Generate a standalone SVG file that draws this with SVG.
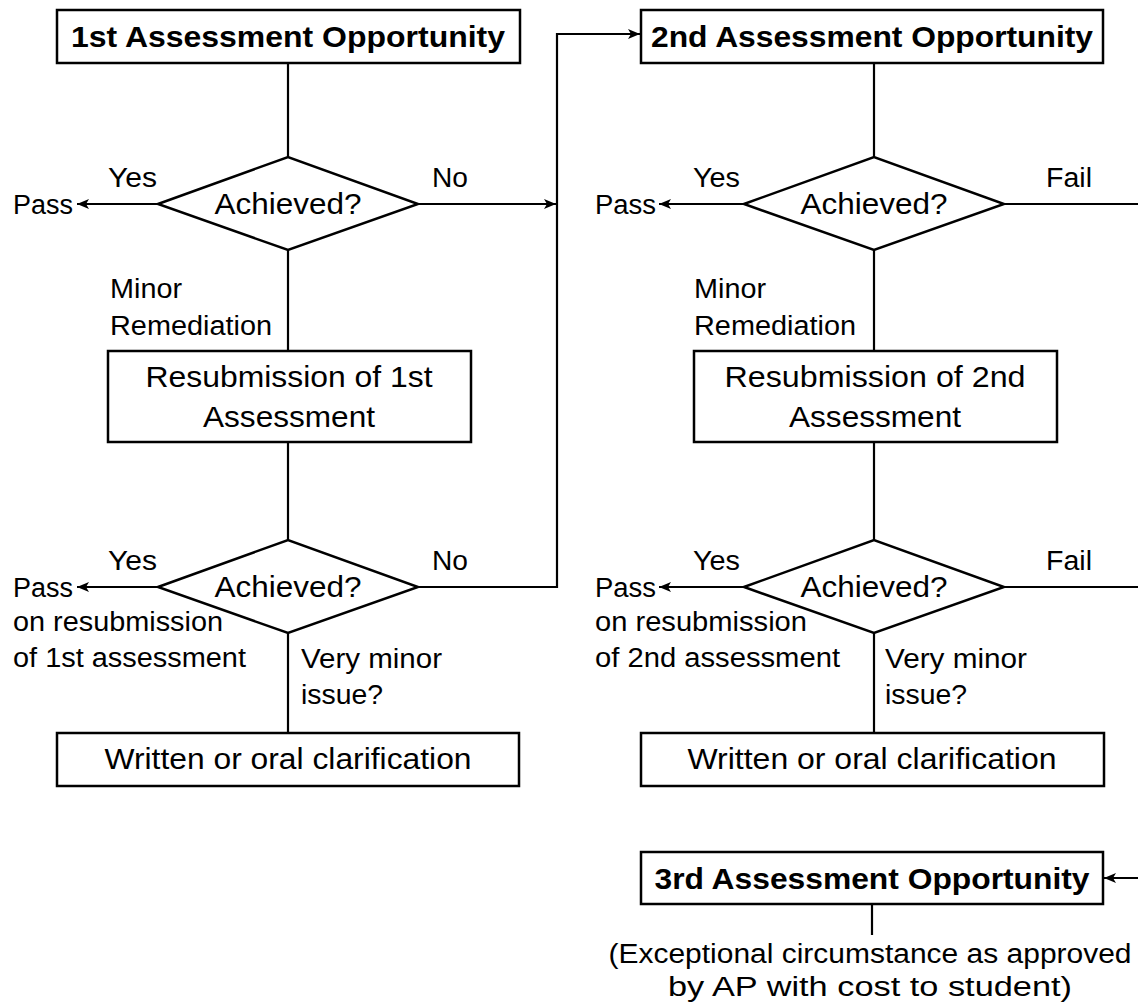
<svg xmlns="http://www.w3.org/2000/svg" width="1138" height="1005" viewBox="0 0 1138 1005">
<defs>
<style>
.box{fill:#fff;stroke:#000;stroke-width:2.5}
.ln{fill:none;stroke:#000;stroke-width:2.2}
.arr{fill:none;stroke:#000;stroke-width:2.2;marker-end:url(#ah)}
text{font-family:"Liberation Sans",Arial,Helvetica,sans-serif;fill:#000}
.t{font-size:30px}
.b{font-size:30px;font-weight:bold}
.l{font-size:27px}
</style>
<marker id="ah" viewBox="-13 -6 14 12" refX="0" refY="0" markerWidth="14" markerHeight="12" markerUnits="userSpaceOnUse" orient="auto">
<path d="M0,0 L-12,-5 L-9,0 L-12,5 Z" fill="#000"/>
</marker>
</defs>
<rect width="1138" height="1005" fill="#fff"/>

<g id="connectors">
<line class="ln" x1="288" y1="63" x2="288" y2="157"/>
<line class="ln" x1="288" y1="250" x2="288" y2="351"/>
<line class="ln" x1="288" y1="442" x2="288" y2="540"/>
<line class="ln" x1="288" y1="633" x2="288" y2="733"/>
<line class="arr" x1="158" y1="204" x2="77" y2="204"/>
<line class="arr" x1="158" y1="587" x2="77" y2="587"/>
<line class="arr" x1="418" y1="204" x2="556" y2="204"/>
<path class="arr" d="M418,587 H557 V34 H640"/>
<line class="ln" x1="874" y1="63" x2="874" y2="157"/>
<line class="ln" x1="874" y1="250" x2="874" y2="351"/>
<line class="ln" x1="874" y1="442" x2="874" y2="540"/>
<line class="ln" x1="874" y1="633" x2="874" y2="733"/>
<line class="arr" x1="744" y1="204" x2="659" y2="204"/>
<line class="arr" x1="744" y1="587" x2="659" y2="587"/>
<line class="ln" x1="1004" y1="204" x2="1138" y2="204"/>
<line class="ln" x1="1004" y1="587" x2="1138" y2="587"/>
<line class="arr" x1="1138" y1="878" x2="1104" y2="878"/>
<line class="ln" x1="872" y1="904" x2="872" y2="935"/>
</g>

<g id="lbl-left">
<text class="l" x="108" y="187" textLength="49" lengthAdjust="spacingAndGlyphs">Yes</text>
<text class="l" x="432" y="187" textLength="36" lengthAdjust="spacingAndGlyphs">No</text>
<text class="l" x="13" y="214" textLength="60" lengthAdjust="spacingAndGlyphs">Pass</text>
<text class="l" x="110" y="298" textLength="72" lengthAdjust="spacingAndGlyphs">Minor</text>
<text class="l" x="110" y="335" textLength="162" lengthAdjust="spacingAndGlyphs">Remediation</text>
<text class="l" x="108" y="570" textLength="49" lengthAdjust="spacingAndGlyphs">Yes</text>
<text class="l" x="432" y="570" textLength="36" lengthAdjust="spacingAndGlyphs">No</text>
<text class="l" x="13" y="597" textLength="60" lengthAdjust="spacingAndGlyphs">Pass</text>
<text class="l" x="13" y="631" textLength="210" lengthAdjust="spacingAndGlyphs">on resubmission</text>
<text class="l" x="13" y="667" textLength="233" lengthAdjust="spacingAndGlyphs">of 1st assessment</text>
<text class="l" x="301" y="668" textLength="141" lengthAdjust="spacingAndGlyphs">Very minor</text>
<text class="l" x="301" y="704" textLength="82" lengthAdjust="spacingAndGlyphs">issue?</text>
</g>

<g id="lbl-right">
<text class="l" x="693" y="187" textLength="47" lengthAdjust="spacingAndGlyphs">Yes</text>
<text class="l" x="1046" y="187" textLength="46" lengthAdjust="spacingAndGlyphs">Fail</text>
<text class="l" x="595" y="214" textLength="61" lengthAdjust="spacingAndGlyphs">Pass</text>
<text class="l" x="694" y="298" textLength="72" lengthAdjust="spacingAndGlyphs">Minor</text>
<text class="l" x="694" y="335" textLength="162" lengthAdjust="spacingAndGlyphs">Remediation</text>
<text class="l" x="693" y="570" textLength="47" lengthAdjust="spacingAndGlyphs">Yes</text>
<text class="l" x="1046" y="570" textLength="46" lengthAdjust="spacingAndGlyphs">Fail</text>
<text class="l" x="595" y="597" textLength="61" lengthAdjust="spacingAndGlyphs">Pass</text>
<text class="l" x="595" y="631" textLength="212" lengthAdjust="spacingAndGlyphs">on resubmission</text>
<text class="l" x="595" y="667" textLength="245" lengthAdjust="spacingAndGlyphs">of 2nd assessment</text>
<text class="l" x="885" y="668" textLength="142" lengthAdjust="spacingAndGlyphs">Very minor</text>
<text class="l" x="885" y="704" textLength="82" lengthAdjust="spacingAndGlyphs">issue?</text>
</g>

<g id="box1">
<rect class="box" x="57" y="10" width="463" height="53"/>
<text class="b" x="288" y="47" text-anchor="middle" textLength="434" lengthAdjust="spacingAndGlyphs">1st Assessment Opportunity</text>
</g>
<g id="dec1">
<polygon class="box" points="158,204 288,157 418,204 288,250"/>
<text class="t" x="288" y="214" text-anchor="middle" textLength="147" lengthAdjust="spacingAndGlyphs">Achieved?</text>
</g>
<g id="resub1">
<rect class="box" x="108" y="351" width="363" height="91"/>
<text class="t" x="289" y="387" text-anchor="middle" textLength="287" lengthAdjust="spacingAndGlyphs">Resubmission of 1st</text>
<text class="t" x="289" y="427" text-anchor="middle" textLength="172" lengthAdjust="spacingAndGlyphs">Assessment</text>
</g>
<g id="dec2">
<polygon class="box" points="158,587 288,540 418,587 288,633"/>
<text class="t" x="288" y="597" text-anchor="middle" textLength="147" lengthAdjust="spacingAndGlyphs">Achieved?</text>
</g>
<g id="clar1">
<rect class="box" x="57" y="733" width="462" height="53"/>
<text class="t" x="288" y="769" text-anchor="middle" textLength="367" lengthAdjust="spacingAndGlyphs">Written or oral clarification</text>
</g>

<g id="box2">
<rect class="box" x="641" y="10" width="462" height="53"/>
<text class="b" x="872" y="47" text-anchor="middle" textLength="442" lengthAdjust="spacingAndGlyphs">2nd Assessment Opportunity</text>
</g>
<g id="dec3">
<polygon class="box" points="744,204 874,157 1004,204 874,250"/>
<text class="t" x="874" y="214" text-anchor="middle" textLength="147" lengthAdjust="spacingAndGlyphs">Achieved?</text>
</g>
<g id="resub2">
<rect class="box" x="694" y="351" width="363" height="91"/>
<text class="t" x="875" y="387" text-anchor="middle" textLength="301" lengthAdjust="spacingAndGlyphs">Resubmission of 2nd</text>
<text class="t" x="875" y="427" text-anchor="middle" textLength="172" lengthAdjust="spacingAndGlyphs">Assessment</text>
</g>
<g id="dec4">
<polygon class="box" points="744,587 874,540 1004,587 874,633"/>
<text class="t" x="874" y="597" text-anchor="middle" textLength="147" lengthAdjust="spacingAndGlyphs">Achieved?</text>
</g>
<g id="clar2">
<rect class="box" x="641" y="733" width="463" height="53"/>
<text class="t" x="872" y="769" text-anchor="middle" textLength="369" lengthAdjust="spacingAndGlyphs">Written or oral clarification</text>
</g>

<g id="box3">
<rect class="box" x="641" y="852" width="462" height="52"/>
<text class="b" x="872" y="889" text-anchor="middle" textLength="435" lengthAdjust="spacingAndGlyphs">3rd Assessment Opportunity</text>
</g>
<g id="note3">
<text class="l" x="870" y="963" text-anchor="middle" textLength="523" lengthAdjust="spacingAndGlyphs">(Exceptional circumstance as approved</text>
<text class="l" x="870" y="996" text-anchor="middle" textLength="404" lengthAdjust="spacingAndGlyphs">by AP with cost to student)</text>
</g>
</svg>
